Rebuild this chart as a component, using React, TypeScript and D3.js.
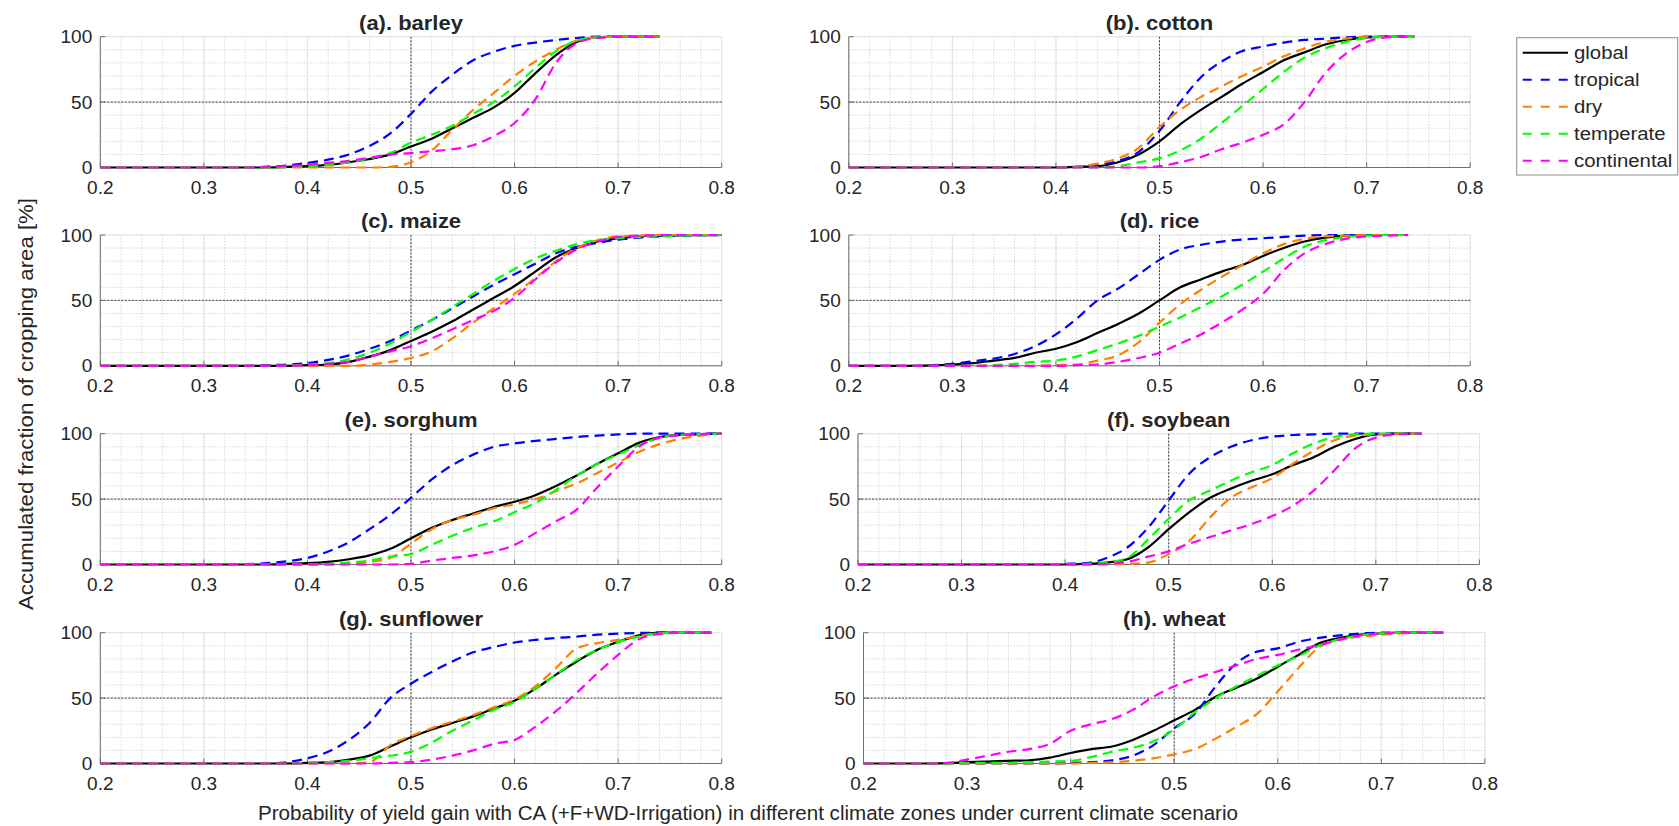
import React from "react";
import * as d3 from "d3";

// ---------------- DATA ----------------
const xGrid = [0.20, 0.22, 0.24, 0.26, 0.28, 0.30, 0.32, 0.34, 0.36, 0.38, 0.40, 0.42, 0.44, 0.46, 0.48, 0.50, 0.52, 0.54, 0.56, 0.58, 0.60, 0.62, 0.64, 0.66, 0.68, 0.70, 0.72, 0.74, 0.76, 0.78, 0.80];
const xTickLabels = ["0.2", "0.3", "0.4", "0.5", "0.6", "0.7", "0.8"];
const yTickLabels = ["0", "50", "100"];
const seriesNames = ["global", "tropical", "dry", "temperate", "continental"];
const seriesColors = ["#000000", "#0000ff", "#ff8000", "#00ff00", "#ff00ff"];
const panelTitles = ["(a). barley", "(b). cotton", "(c). maize", "(d). rice", "(e). sorghum", "(f). soybean", "(g). sunflower", "(h). wheat"];
const panelEnds = [0.74, 0.746, 0.80, 0.74, 0.80, 0.744, 0.79, 0.76];

// values at xGrid (0.20, 0.22, ...) until the curve reaches 100
const barleyGlobal = [0, 0, 0, 0, 0, 0, 0, 0, 0, 0.5, 1, 2, 4, 6.5, 10, 16, 22, 30, 38, 46, 57, 72, 86, 96, 99.5, 100];
const barleyTropical = [0, 0, 0, 0, 0, 0, 0, 0, 0.5, 1.5, 3.5, 6, 10, 16.5, 26, 41, 58, 71, 82, 88.5, 93, 95.5, 97.5, 99, 100];
const barleyDry = [0, 0, 0, 0, 0, 0, 0, 0, 0, 0, 0, 0, 0, 0, 0.5, 4, 13, 29, 44, 57, 70, 81, 90, 97, 99.5, 100];
const barleyTemperate = [0, 0, 0, 0, 0, 0, 0, 0, 0, 0.3, 1, 2, 4, 7, 11, 19, 25, 32, 41, 50, 62, 76, 89, 97, 99.5, 100];
const barleyContinental = [0, 0, 0, 0, 0, 0, 0, 0, 0.5, 1, 2, 3.5, 5, 7.5, 10, 11, 12.5, 14, 17, 24, 34, 52, 80, 95, 99, 100];

const cottonGlobal = [0, 0, 0, 0, 0, 0, 0, 0, 0, 0, 0, 0.5, 1, 4, 10, 20, 33, 44, 54, 64, 73, 82, 88, 94, 97.5, 99.5, 100];
const cottonTropical = [0, 0, 0, 0, 0, 0, 0, 0, 0, 0, 0, 0.5, 2, 5, 12, 28, 50, 69, 81, 89, 92.5, 95.5, 97.5, 98.5, 99.5, 100];
const cottonDry = [0, 0, 0, 0, 0, 0, 0, 0, 0, 0, 0, 0.5, 3, 7, 15, 31, 44, 54, 62, 70, 77, 85, 91, 96, 98.5, 100];
const cottonTemperate = [0, 0, 0, 0, 0, 0, 0, 0, 0, 0, 0, 0, 0, 1, 4, 7, 13, 22, 34, 47, 60, 73, 84, 91, 96, 99, 100];
const cottonContinental = [0, 0, 0, 0, 0, 0, 0, 0, 0, 0, 0, 0, 0, 0, 0, 1, 4, 8, 14, 19, 25, 33, 50, 72, 87, 96, 99.5, 100];

const maizeGlobal = [0, 0, 0, 0, 0, 0, 0, 0, 0, 0, 0.5, 1, 3, 7, 12, 19, 26, 34, 43, 52, 61, 72, 83, 90, 95, 97.5, 99, 99.5, 99.7, 99.9, 100];
const maizeTropical = [0, 0, 0, 0, 0, 0, 0, 0, 0.5, 1, 2, 4.5, 8, 13, 19, 27, 35, 44, 53, 62, 70, 78, 86, 91, 94, 96.5, 98, 99, 99.5, 99.8, 100];
const maizeDry = [0, 0, 0, 0, 0, 0, 0, 0, 0, 0, 0, 0, 0, 1, 3, 6, 11, 21, 33, 44, 55, 67, 80, 90, 96, 99, 99.5, 100];
const maizeTemperate = [0, 0, 0, 0, 0, 0, 0, 0, 0, 0, 1, 2, 5, 10, 17, 26, 35, 45, 55, 65, 74, 82, 88, 93, 96, 97.5, 98.5, 99, 99.5, 99.8, 100];
const maizeContinental = [0, 0, 0, 0, 0, 0, 0, 0, 0, 0, 0.5, 1.5, 3, 7, 11, 15, 21, 28, 35, 42, 52, 66, 79, 89, 95, 98.5, 99.5, 100];

const riceGlobal = [0, 0, 0, 0, 0.3, 1, 2, 4, 6, 10, 13, 18, 25, 32, 40, 50, 60, 66, 72, 77, 84, 90, 95, 98, 99.5, 100];
const riceTropical = [0, 0, 0, 0, 0.5, 1.5, 3.5, 5.5, 9, 15, 24, 36, 50, 59, 70, 81, 89, 92.5, 95, 96.5, 97.5, 98.5, 99.5, 100];
const riceDry = [0, 0, 0, 0, 0, 0, 0, 0, 0, 0, 0.5, 1, 4, 8, 18, 33, 47, 58, 68, 77, 86, 93, 97, 99, 99.5, 100];
const riceTemperate = [0, 0, 0, 0, 0, 0, 0, 0.5, 1.5, 3, 4, 7, 12, 17, 23, 30, 37, 45, 53, 62, 72, 82, 91, 96, 98.5, 99.5, 100];
const riceContinental = [0, 0, 0, 0, 0, 0, 0, 0, 0, 0, 0, 0.5, 1, 3, 6, 10, 17, 24, 33, 43, 55, 73, 86, 93, 97, 99, 99.5, 100];

const sorghumGlobal = [0, 0, 0, 0, 0, 0, 0, 0, 0, 0.5, 1, 2, 4, 7, 12, 20, 28, 34, 39, 44, 48, 53, 60, 68, 77, 85, 93, 97.5, 99, 99.7, 100];
const sorghumTropical = [0, 0, 0, 0, 0, 0, 0, 0.3, 1, 2.5, 5, 10, 17, 27, 38, 51, 65, 76, 84, 90, 92.5, 94.5, 96, 97.5, 98.5, 99.5, 100];
const sorghumDry = [0, 0, 0, 0, 0, 0, 0, 0, 0, 0, 0, 0, 0.5, 2, 5, 16, 27, 34, 38, 43, 46, 50, 56, 62, 70, 78, 86, 92, 96, 98.5, 100];
const sorghumTemperate = [0, 0, 0, 0, 0, 0, 0, 0, 0, 0, 0, 0.5, 1.5, 3, 6, 8, 15, 22, 28, 33, 40, 47, 57, 68, 77, 84, 91, 97, 99, 99.7, 100];
const sorghumContinental = [0, 0, 0, 0, 0, 0, 0, 0, 0, 0, 0, 0, 0, 0, 0, 0.5, 3, 5, 7, 10, 15, 24, 33, 42, 59, 75, 90, 97, 99, 99.7, 100];

const soybeanGlobal = [0, 0, 0, 0, 0, 0, 0, 0, 0, 0, 0, 0.5, 1.5, 4, 13, 27, 40, 51, 58, 64, 69, 76, 82, 90, 96, 99.5, 100];
const soybeanTropical = [0, 0, 0, 0, 0, 0, 0, 0, 0, 0, 0.5, 1, 5, 13, 28, 49, 69.5, 82, 90, 95, 97.7, 99, 99.5, 100];
const soybeanDry = [0, 0, 0, 0, 0, 0, 0, 0, 0, 0, 0, 0, 0, 0.5, 1.5, 8, 18, 36, 51, 59, 66, 77, 87, 95, 98.5, 99.5, 100];
const soybeanTemperate = [0, 0, 0, 0, 0, 0, 0, 0, 0, 0, 0, 0.5, 1.5, 5, 19, 35, 49, 56.5, 64, 70.5, 76, 85, 92.5, 97.5, 99.5, 100];
const soybeanContinental = [0, 0, 0, 0, 0, 0, 0, 0, 0, 0, 0, 0, 0.5, 2, 6, 10, 16, 21, 26, 31, 37, 45, 56.5, 72, 88.7, 97, 99.5, 100];

const sunflowerGlobal = [0, 0, 0, 0, 0, 0, 0, 0, 0, 0, 0.5, 1, 3, 6, 13, 20, 26, 31, 36, 42, 48, 57, 68, 78, 87, 93, 98, 100];
const sunflowerTropical = [0, 0, 0, 0, 0, 0, 0, 0, 0, 1, 4, 9, 18, 31, 50, 61, 70, 78, 85, 89, 92.5, 94.5, 96, 97, 98.5, 99.3, 99.8, 100];
const sunflowerDry = [0, 0, 0, 0, 0, 0, 0, 0, 0, 0, 0, 0, 0, 1, 14, 21, 27, 32, 37, 43, 49, 59, 73, 88, 92, 94.5, 97.5, 99.5, 100];
const sunflowerTemperate = [0, 0, 0, 0, 0, 0, 0, 0, 0, 0, 0.5, 1, 2, 4, 6, 9, 16, 25, 33, 41, 47, 57, 68, 79, 87, 93, 97, 99.5, 100];
const sunflowerContinental = [0, 0, 0, 0, 0, 0, 0, 0, 0, 0, 0, 0, 0, 0, 0.5, 1, 3, 6, 10, 15, 18, 28, 40, 54, 69, 83, 95, 99, 100];

const wheatGlobal = [0, 0, 0, 0, 0.3, 1, 1.5, 2, 2.5, 4.5, 8, 11, 13, 18, 25, 33, 41, 51, 58, 65, 74, 83, 92, 96, 98.5, 99.5, 100];
const wheatTropical = [0, 0, 0, 0, 0, 0, 0, 0, 0, 0, 0.5, 1, 2.5, 6, 14, 27, 38, 59, 76.5, 85.5, 88, 93, 96, 98, 99.5, 100];
const wheatDry = [0, 0, 0, 0, 0, 0, 0, 0, 0, 0, 0, 0.5, 1, 2, 4, 7, 11, 19, 28, 38, 55, 73, 89, 95, 97, 98.5, 99.5, 100];
const wheatTemperate = [0, 0, 0, 0, 0, 0.5, 0.5, 0.5, 1, 1.5, 2, 5, 9, 12, 17, 26, 39, 50, 59, 67, 75, 82, 90, 95, 98, 99.5, 100];
const wheatContinental = [0, 0, 0, 0, 0.5, 3, 6, 9, 11, 15, 25, 30, 34, 41, 51, 59, 65, 70, 75, 80, 83, 87, 90.5, 94.5, 98, 99.5, 100];

const panelSeries = [
  [barleyGlobal, barleyTropical, barleyDry, barleyTemperate, barleyContinental],
  [cottonGlobal, cottonTropical, cottonDry, cottonTemperate, cottonContinental],
  [maizeGlobal, maizeTropical, maizeDry, maizeTemperate, maizeContinental],
  [riceGlobal, riceTropical, riceDry, riceTemperate, riceContinental],
  [sorghumGlobal, sorghumTropical, sorghumDry, sorghumTemperate, sorghumContinental],
  [soybeanGlobal, soybeanTropical, soybeanDry, soybeanTemperate, soybeanContinental],
  [sunflowerGlobal, sunflowerTropical, sunflowerDry, sunflowerTemperate, sunflowerContinental],
  [wheatGlobal, wheatTropical, wheatDry, wheatTemperate, wheatContinental],
];

// ---------------- LAYOUT ----------------
const W = 1679;
const H = 826;
const panelLeft = [100.3, 848.8, 100.3, 848.8, 100.3, 858, 100.3, 863.5];
const panelTop = [36.7, 36.7, 235, 235, 433.7, 433.7, 632.7, 632.7];
const PW = 621.4;
const PH = 130.8;
const FONT = "'Liberation Sans', Arial, Helvetica, sans-serif";
const TXT = "#262626";

function SText(props: any) {
  const { x, y, sx = 1, anchor = "middle", size, weight = "normal", children, rotate = 0, textLength } = props;
  return (
    <text
      transform={`translate(${x},${y}) rotate(${rotate}) scale(${sx},1)`}
      textAnchor={anchor}
      fontSize={size}
      fontWeight={weight}
      fontFamily={FONT}
      fill={TXT}
      textLength={textLength}
      lengthAdjust={textLength ? "spacingAndGlyphs" : undefined}
    >
      {children}
    </text>
  );
}

function Panel({ idx }: { idx: number }) {
  const x0 = panelLeft[idx];
  const y0 = panelTop[idx];
  const x = d3.scaleLinear().domain([0.2, 0.8]).range([x0, x0 + PW]);
  const y = d3.scaleLinear().domain([0, 100]).range([y0 + PH, y0]);
  const minorX = x.ticks(30);
  const majorX = x.ticks(6);
  const minorY = y.ticks(10);
  const majorY = y.ticks(2);
  const end = panelEnds[idx];
  const line = d3
    .line<[number, number]>()
    .x((d) => x(d[0]))
    .y((d) => y(d[1]))
    .curve(d3.curveMonotoneX);

  const paths = panelSeries[idx].map((vals, si) => {
    const pts: [number, number][] = vals.map((v, i) => [xGrid[i], v]);
    const last = pts[pts.length - 1];
    if (last[0] < end) pts.push([end, last[1]]);
    return (
      <path
        key={si}
        d={line(pts) || ""}
        fill="none"
        stroke={seriesColors[si]}
        strokeWidth={2.2}
        strokeDasharray={si === 0 ? undefined : "10,6"}
        strokeLinejoin="round"
      />
    );
  });

  return (
    <g>
      {/* minor grid */}
      {minorX.map((t, i) => (
        <line key={"mx" + i} x1={x(t)} x2={x(t)} y1={y0} y2={y0 + PH} stroke="#cfcfcf" strokeWidth={0.8} strokeDasharray="1.5,1.5" />
      ))}
      {minorY.map((t, i) => (
        <line key={"my" + i} x1={x0} x2={x0 + PW} y1={y(t)} y2={y(t)} stroke="#cfcfcf" strokeWidth={0.8} strokeDasharray="1.5,1.5" />
      ))}
      {/* major grid */}
      {majorX.map((t, i) => (
        <line key={"Mx" + i} x1={x(t)} x2={x(t)} y1={y0} y2={y0 + PH} stroke="#e2e2e2" strokeWidth={1} />
      ))}
      {majorY.map((t, i) => (
        <line key={"My" + i} x1={x0} x2={x0 + PW} y1={y(t)} y2={y(t)} stroke="#e2e2e2" strokeWidth={1} />
      ))}
      {/* reference lines */}
      <line x1={x0} x2={x0 + PW} y1={y(50)} y2={y(50)} stroke="#333" strokeWidth={0.9} strokeDasharray="2,1.5" />
      <line x1={x(0.5)} x2={x(0.5)} y1={y0} y2={y0 + PH} stroke="#333" strokeWidth={0.9} strokeDasharray="2,1.5" />
      {/* axes */}
      <line x1={x0} x2={x0} y1={y0} y2={y0 + PH} stroke="#6e6e6e" strokeWidth={1} />
      <line x1={x0} x2={x0 + PW} y1={y0 + PH} y2={y0 + PH} stroke="#6e6e6e" strokeWidth={1} />
      {majorX.map((t, i) => (
        <line key={"tx" + i} x1={x(t)} x2={x(t)} y1={y0 + PH} y2={y0 + PH - 5} stroke="#6e6e6e" strokeWidth={1} />
      ))}
      {majorY.map((t, i) => (
        <line key={"ty" + i} x1={x0} x2={x0 + 5} y1={y(t)} y2={y(t)} stroke="#6e6e6e" strokeWidth={1} />
      ))}
      {paths}
      {/* tick labels */}
      {majorX.map((t, i) => (
        <SText key={"lx" + i} x={x(t)} y={y0 + PH + 26} size={18.5} sx={1.03}>
          {xTickLabels[i]}
        </SText>
      ))}
      {majorY.map((t, i) => (
        <SText key={"ly" + i} x={x0 - 8} y={y(t) + 6.5} size={18.5} sx={1.03} anchor="end">
          {yTickLabels[i]}
        </SText>
      ))}
      <SText x={x0 + PW / 2} y={y0 - 7} size={20} sx={1.1} weight="bold">
        {panelTitles[idx]}
      </SText>
    </g>
  );
}

function Legend() {
  const bx = 1516.7;
  const by = 37.7;
  const bw = 161;
  const bh = 137.3;
  const rowY = d3.scaleLinear().domain([0, 4]).range([52.7, 160.7]);
  return (
    <g>
      <rect x={bx} y={by} width={bw} height={bh} fill="#fff" stroke="#8c8c8c" strokeWidth={1} />
      {seriesNames.map((n, i) => (
        <g key={n}>
          <line
            x1={1522.7}
            x2={1568}
            y1={rowY(i)}
            y2={rowY(i)}
            stroke={seriesColors[i]}
            strokeWidth={2}
            strokeDasharray={i === 0 ? undefined : "9,9"}
          />
          <SText x={1574} y={rowY(i) + 6.5} size={18.5} sx={1.1} anchor="start">
            {n}
          </SText>
        </g>
      ))}
    </g>
  );
}

export default function App() {
  return (
    <svg
      width={W}
      height={H}
      viewBox={`0 0 ${W} ${H}`}
      style={{ position: "absolute", left: 0, top: 0, background: "#fff" }}
    >
      <rect x={0} y={0} width={W} height={H} fill="#fff" />
      {panelTitles.map((_, i) => (
        <Panel key={i} idx={i} />
      ))}
      <Legend />
      <SText x={26} y={404} size={21} rotate={-90} textLength={412}>
        <tspan dy="0.35em">Accumulated fraction of cropping area [%]</tspan>
      </SText>
      <SText x={748} y={820} size={19.5} textLength={980}>
        Probability of yield gain with CA (+F+WD-Irrigation) in different climate zones under current climate scenario
      </SText>
    </svg>
  );
}
